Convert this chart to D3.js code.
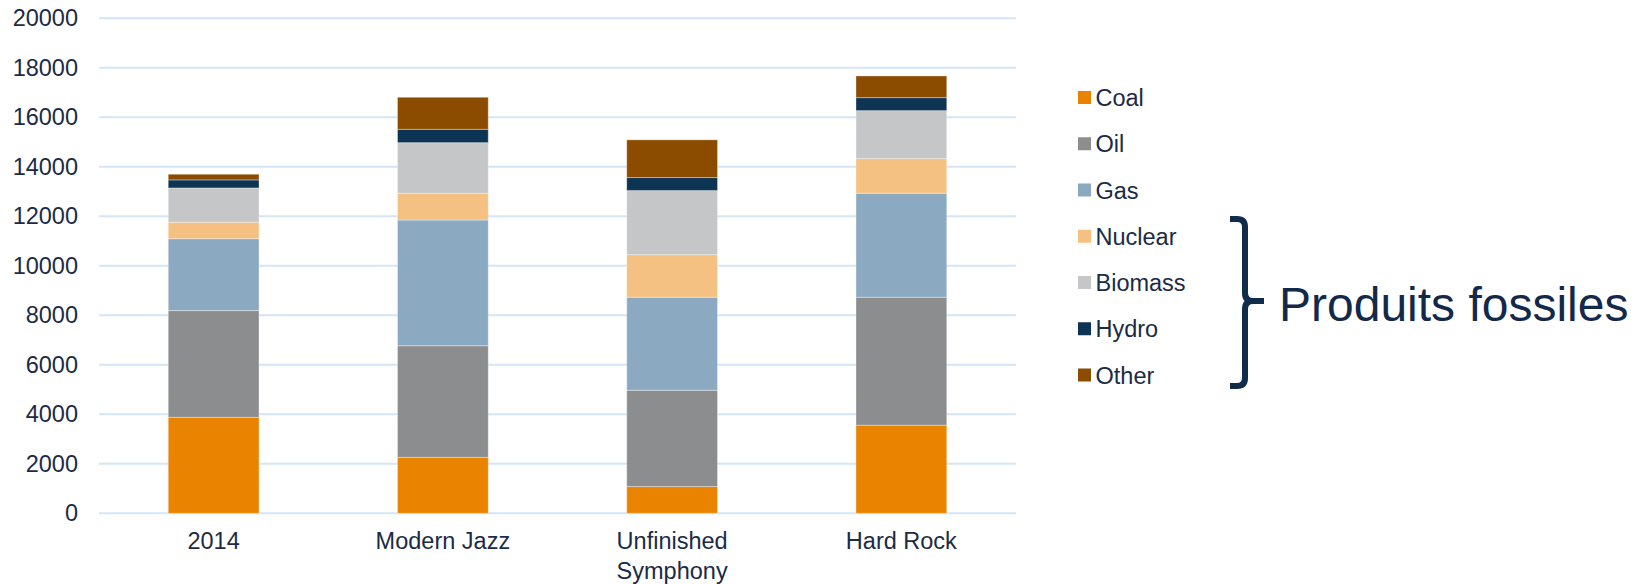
<!DOCTYPE html>
<html>
<head>
<meta charset="utf-8">
<script src="https://cdn.jsdelivr.net/npm/d3@7"></script>
<style>
  body { margin: 0; background: #fff; }
  svg { display: block; font-family: "Liberation Sans", Arial, sans-serif; }
</style>
</head>
<body>
<script>
// categories and series
const categories = ['2014', 'Modern Jazz', 'Unfinished Symphony', 'Hard Rock'];
const sources = ['Coal', 'Oil', 'Gas', 'Nuclear', 'Biomass', 'Hydro', 'Other'];
const coal    = [3880, 2260, 1080, 3560];
const oil     = [4310, 4510, 3890, 5170];
const gas     = [2905, 5080, 3760, 4200];
const nuclear = [665, 1080, 1720, 1400];
const biomass = [1385, 2045, 2590, 1940];
const hydro   = [325, 540, 525, 525];
const other   = [230, 1295, 1525, 875];
const yTicks  = [0, 2000, 4000, 6000, 8000, 10000, 12000, 14000, 16000, 18000, 20000];
const colors  = ['#E98300', '#8C8D8E', '#8BAAC2', '#F4C183', '#C5C6C8', '#0E3454', '#8B4C00'];
const bracketLabel = 'Produits fossiles';

const width = 1643, height = 584;
const textColor = '#1B2B45';

// build rows for d3.stack
const series = [coal, oil, gas, nuclear, biomass, hydro, other];
const rows = categories.map((c, i) => {
    const r = {cat: c};
    sources.forEach((s, j) => r[s] = series[j][i]);
    return r;
});

const svg = d3.select('body').append('svg')
    .attr('width', width)
    .attr('height', height);

const x = d3.scaleBand()
    .domain(categories)
    .range([99, 1016])
    .paddingInner(0.604)
    .paddingOuter(0.302);

const y = d3.scaleLinear()
    .domain([0, 20000])
    .range([513.3, 18.3]);

const color = d3.scaleOrdinal().domain(sources).range(colors);

// gridlines
svg.append('g')
    .selectAll('line')
    .data(yTicks)
    .join('line')
    .attr('x1', 99)
    .attr('x2', 1016)
    .attr('y1', d => y(d))
    .attr('y2', d => y(d))
    .attr('stroke', '#D3E5F6')
    .attr('stroke-width', 2);

// y axis labels (no domain line)
const yAxis = d3.axisLeft(y).tickValues(yTicks).tickSize(0).tickPadding(0).tickFormat(d3.format('d'));
const yAxisG = svg.append('g')
    .attr('transform', 'translate(78,0)')
    .call(yAxis);
yAxisG.select('.domain').remove();
yAxisG.selectAll('text')
    .attr('font-size', 23.5)
    .attr('font-family', '"Liberation Sans", Arial, sans-serif')
    .attr('fill', textColor);

// stacked bars
const stacked = d3.stack().keys(sources)(rows);

svg.append('g')
    .selectAll('g')
    .data(stacked)
    .join('g')
    .attr('fill', d => color(d.key))
    .selectAll('rect')
    .data(d => d)
    .join('rect')
    .attr('x', d => x(d.data.cat))
    .attr('width', x.bandwidth())
    .attr('y', d => y(d[1]))
    .attr('height', d => y(d[0]) - y(d[1]))
    .attr('stroke', '#fff')
    .attr('stroke-opacity', 0.35)
    .attr('stroke-width', 1);

// x axis labels, wrapped on two lines where needed
const xLabels = svg.append('g');
categories.forEach(c => {
    const words = c === 'Unfinished Symphony' ? ['Unfinished', 'Symphony'] : [c];
    const t = xLabels.append('text')
        .attr('x', x(c) + x.bandwidth() / 2)
        .attr('y', 549.3)
        .attr('text-anchor', 'middle')
        .attr('font-size', 23.5)
        .attr('fill', textColor);
    words.forEach((w, i) => {
        t.append('tspan')
            .attr('x', x(c) + x.bandwidth() / 2)
            .attr('dy', i === 0 ? 0 : 29.5)
            .text(w);
    });
});

// legend
const legend = svg.append('g').attr('transform', 'translate(1078,0)');
const legendY = d3.scalePoint().domain(sources).range([106, 383.5]);

legend.selectAll('rect')
    .data(sources)
    .join('rect')
    .attr('x', 0)
    .attr('y', d => legendY(d) - 15)
    .attr('width', 13)
    .attr('height', 13)
    .attr('fill', d => color(d));

legend.selectAll('text')
    .data(sources)
    .join('text')
    .attr('x', 17.5)
    .attr('y', d => legendY(d))
    .attr('font-size', 23.5)
    .attr('fill', textColor)
    .text(d => d);

// the bracket grouping the last four entries
const brace = svg.append('g');
const braceTop = 219, braceBot = 386, braceMid = 301, bx = 1245, bLeft = 1230, bTip = 1264;
brace.append('path')
    .attr('d', `M${bLeft},${braceTop} H${bx - 8} Q${bx},${braceTop} ${bx},${braceTop + 8}
               V${braceMid - 8} Q${bx},${braceMid} ${bx + 8},${braceMid} H${bTip}
               M${bLeft},${braceBot} H${bx - 8} Q${bx},${braceBot} ${bx},${braceBot - 8}
               V${braceMid + 8} Q${bx},${braceMid} ${bx + 8},${braceMid}`)
    .attr('fill', 'none')
    .attr('stroke', '#0F2C4A')
    .attr('stroke-width', 6);

svg.append('text')
    .attr('x', 1279)
    .attr('y', 320.5)
    .attr('font-size', 48)
    .attr('fill', '#12294A')
    .text(bracketLabel);
</script>
</body>
</html>
